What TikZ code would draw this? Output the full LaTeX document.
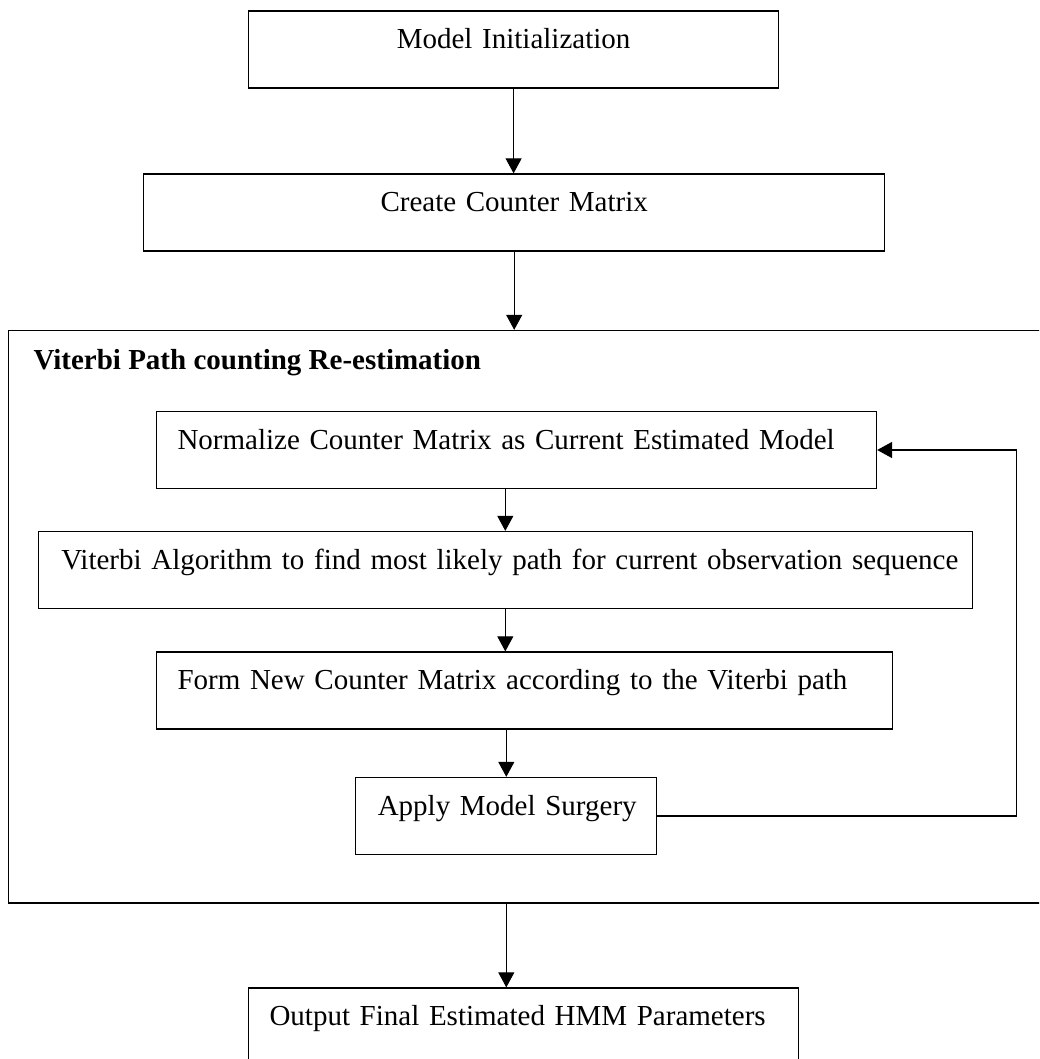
\documentclass[tikz,border=0pt]{standalone}
\usepackage{fontspec}
\setmainfont{Liberation Serif}
\usepackage{tikz}
\usetikzlibrary{arrows.meta,positioning,calc}

\begin{document}
\begin{tikzpicture}[x=1pt, y=-1pt,
    stepbox/.style={draw, line width=1.3pt, text height=37.5pt, text depth=39.5pt,
        inner ysep=0pt, inner xsep=21pt, font=\fontsize{29}{34}\selectfont},
    flow/.style={-{Triangle[length=15pt,width=16pt]}, line width=1pt}]
    \path[use as bounding box, clip] (0,0) rectangle (1039,1059);
    \node[stepbox, text width=488pt, align=center] (init) at (513.6,49.5) {Model Initialization};
    \node[stepbox, text width=699pt, align=center] (counter) at (514.2,212.5) {Create Counter Matrix};
    \node[draw, line width=1.3pt, minimum width=1051pt, minimum height=572.5pt] (loop) at (534.3,616.75) {};
    \node[anchor=base west, font=\fontsize{29}{34}\selectfont\bfseries] (title) at (30,369) {Viterbi Path counting Re-estimation};
    \node[stepbox, text width=678pt, align=left] (norm) at (516.5,450) {\mbox{Normalize Counter Matrix as Current Estimated Model}};
    \node[stepbox, inner xsep=23pt, text width=888pt, align=left] (viterbi) at (505.3,570) {\mbox{Viterbi Algorithm to find most likely path for current observation sequence}};
    \node[stepbox, text width=694pt, align=left] (form) at (524.5,690.5) {\mbox{Form New Counter Matrix according to the Viterbi path}};
    \node[stepbox, inner xsep=22pt, text width=257pt, align=left] (surgery) at (506.3,816) {\mbox{Apply Model Surgery}};
    \node[stepbox, text width=508pt, align=left] (output) at (523.5,1026.5) {\mbox{Output Final Estimated HMM Parameters}};
    \draw[flow] (init.south) -- (init.south |- counter.north);
    \draw[flow] (counter.south) -- (counter.south |- loop.north);
    \draw[flow] (viterbi.north |- norm.south) -- (viterbi.north);
    \draw[flow] (viterbi.south) -- (viterbi.south |- form.north);
    \draw[flow] (surgery.north |- form.south) -- (surgery.north);
    \draw[flow, line width=1.6pt] (surgery.east) -- ++(359,0) |- (norm.east);
    \draw[flow] (surgery.south |- loop.south) -- (surgery.south |- output.north);
\end{tikzpicture}
\end{document}
